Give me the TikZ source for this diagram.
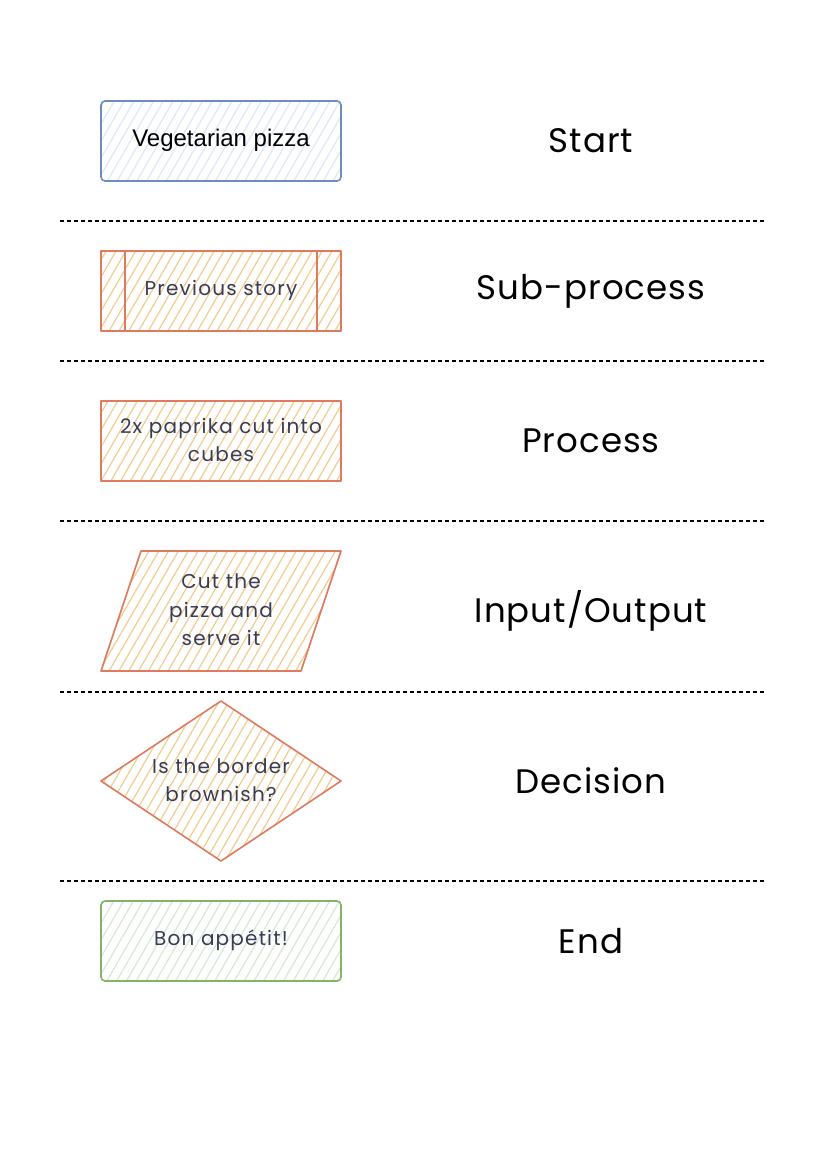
\documentclass[tikz,border=0pt]{standalone}
\usepackage{fontspec}
\setmainfont{Liberation Sans}
\newfontfamily\hand{Poppins}[LetterSpace=6]
\newfontfamily\handlbl{Poppins}[LetterSpace=3]
\usetikzlibrary{patterns.meta}
\definecolor{bluestroke}{HTML}{6C8EBF}
\definecolor{bluefill}{HTML}{DAE8FC}
\definecolor{orstroke}{HTML}{E07A5F}
\definecolor{orfill}{HTML}{F2CC8F}
\definecolor{grstroke}{HTML}{82B366}
\definecolor{grfill}{HTML}{D5E8D4}
\definecolor{txt}{HTML}{393C56}
\begin{document}
\begin{tikzpicture}[x=1pt,y=-1pt]
\tikzset{
  shp/.style={line width=1.6pt, line join=round},
  hatch/.style={pattern={Lines[angle=60,distance=8.5pt,line width=1.2pt]}},
  bluesh/.style={shp, draw=bluestroke, hatch, pattern color=bluefill, rounded corners=4pt},
  orsh/.style={shp, draw=orstroke, hatch, pattern color=orfill},
  grsh/.style={shp, draw=grstroke, hatch, pattern color=grfill, rounded corners=4pt},
  intext/.style={font=\hand\fontsize{20}{28.5}\selectfont, text=txt, align=center},
  lbl/.style={font=\handlbl\fontsize{34}{40}\selectfont, text=black},
  sep/.style={line width=1.4pt, dash pattern=on 4pt off 3pt},
}
\useasboundingbox (0,0) rectangle (826,1166);
\fill[white] (0,0) rectangle (826,1166);

% shapes
\path[bluesh] (101,101) rectangle (341,181);
\node (start) at (221,140) {\fontsize{24}{28}\selectfont Vegetarian pizza};

\path[orsh] (101,251) rectangle (341,331);
\draw[shp, draw=orstroke] (125,251) -- (125,331) (317,251) -- (317,331);
\node[intext] (sub) at (221,290) {Previous story};

\path[orsh] (101,401) rectangle (341,481);
\node[intext] (proc) at (221,440) {2x paprika cut into\\cubes};

\path[orsh] (101,671) -- (141,551) -- (341,551) -- (301,671) -- cycle;
\node[intext] (io) at (221,610) {Cut the\\pizza and\\serve it};

\path[orsh] (221,701) -- (341,781) -- (221,861) -- (101,781) -- cycle;
\node[intext] (dec) at (221,780) {Is the border\\brownish?};

\path[grsh] (101,901) rectangle (341,981);
\node[intext] (end) at (221,940) {Bon appétit!};

% labels
\node[lbl] (lstart) at (591,141) {Start};
\node[lbl] (lsub) at (591,291) {Sub-process};
\node[lbl] (lproc) at (591,441) {Process};
\node[lbl] (lio) at (591,611) {Input/Output};
\node[lbl] (ldec) at (591,781) {Decision};
\node[lbl] (lend) at (591,941) {End};

% separators
\coordinate (s1a) at (60,221); \coordinate (s1b) at (765,221);
\coordinate (s2a) at (60,361); \coordinate (s2b) at (765,361);
\coordinate (s3a) at (60,521); \coordinate (s3b) at (765,521);
\coordinate (s4a) at (60,692); \coordinate (s4b) at (765,692);
\coordinate (s5a) at (60,881); \coordinate (s5b) at (765,881);
\draw[sep] (s1a) -- (s1b);
\draw[sep] (s2a) -- (s2b);
\draw[sep] (s3a) -- (s3b);
\draw[sep] (s4a) -- (s4b);
\draw[sep] (s5a) -- (s5b);
\end{tikzpicture}
\end{document}
